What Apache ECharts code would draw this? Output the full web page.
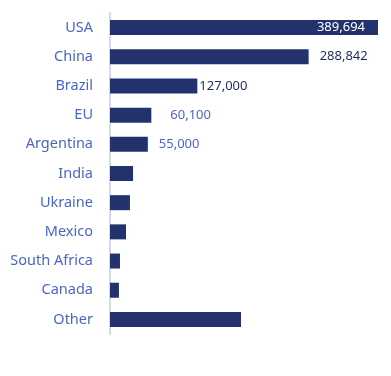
<!DOCTYPE html>
<html>
<head>
<meta charset="utf-8">
<script src="https://cdn.jsdelivr.net/npm/echarts@6/dist/echarts.min.js"></script>
<style>html,body{margin:0;padding:0;background:#fff}#c{width:391px;height:376px}</style>
</head>
<body>
<div id="c"></div>
<script>
const categories = ['USA', 'China', 'Brazil', 'EU', 'Argentina', 'India', 'Ukraine', 'Mexico', 'South Africa', 'Canada', 'Other'];
const values = [389694, 288842, 127000, 60100, 55000, 33500, 29000, 23300, 14500, 13000, 190500];
const valueLabels = ['389,694', '288,842', '127,000', '60,100', '55,000', '', '', '', '', '', ''];

const labelStyles = [
  { position: 'insideRight', distance: 13, color: '#ffffff' },
  { position: 'right', distance: 11, color: '#1f2b5e' },
  { position: 'right', distance: 2, color: '#1f2b5e' },
  { position: 'right', distance: 19, color: '#4a66c4' },
  { position: 'right', distance: 11, color: '#4a66c4' }
];

const data = values.map((v, i) => {
  const item = { value: v };
  if (valueLabels[i]) {
    item.label = Object.assign({ show: true, formatter: valueLabels[i] }, labelStyles[i]);
  }
  return item;
});

const chart = echarts.init(document.getElementById('c'), null, { renderer: 'canvas' });
chart.setOption({
  animation: false,
  grid: { left: 110, right: 13, top: 13, bottom: 42, containLabel: false },
  xAxis: {
    type: 'value', min: 0, max: 389694, show: false
  },
  yAxis: {
    type: 'category', data: categories, inverse: true, offset: 1,
    axisLine: { show: true, lineStyle: { color: '#d3daf0', width: 2 } },
    axisTick: { show: false },
    axisLabel: { color: '#4a66c4', fontSize: 14.5, fontFamily: 'Noto Sans', margin: 16 },
    splitLine: { show: false }
  },
  series: [{
    type: 'bar', data: data, barWidth: 15,
    itemStyle: { color: '#23326c' },
    label: { show: false, fontSize: 13, fontFamily: 'Noto Sans' }
  }]
});
</script>
</body>
</html>
